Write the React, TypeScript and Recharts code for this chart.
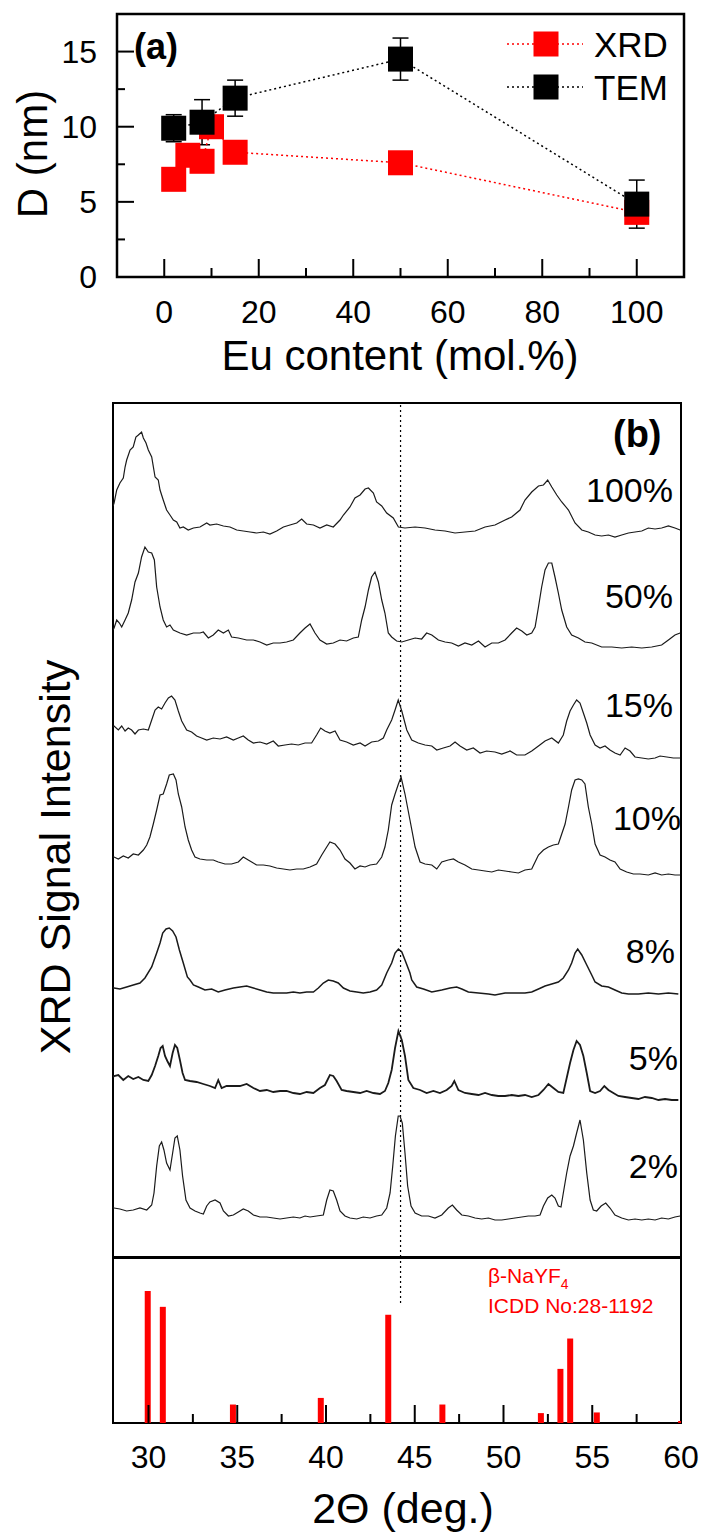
import React from 'react';
import {
  ScatterChart, Scatter, XAxis, YAxis, ErrorBar, ReferenceArea, ReferenceLine,
  LineChart, Line, ComposedChart, Bar,
} from 'recharts';

const FONT = '"Liberation Sans", Arial, Helvetica, sans-serif';

// ---------- Panel (a): crystallite size vs Eu content ----------
const euXrd = [2, 5, 8, 10, 15, 50, 100];
const dXrd = [6.5, 8.1, 7.7, 10.0, 8.3, 7.6, 4.3];
const euTem = [2, 8, 15, 50, 100];
const dTem = [9.9, 10.3, 11.9, 14.5, 4.85];
const dTemErr = [0.9, 1.5, 1.2, 1.4, 1.6];
const euTicks = [0, 10, 20, 30, 40, 50, 60, 70, 80, 90, 100];
const dTicks = [0, 2.5, 5, 7.5, 10, 12.5, 15];

// ---------- Panel (b): XRD patterns (2theta, intensity above trace baseline) ----------
const labels = ['100%', '50%', '15%', '10%', '8%', '5%', '2%'];
const offsets = [727, 617, 514, 400, 269, 179, 49];

const t100 = [[28.0,24],[28.06,27],[28.21,40],[28.39,47],[28.58,52],[28.68,63],[28.77,70],[28.96,80],[29.14,83],[29.29,93],[29.43,95],[29.61,98],[29.71,92],[29.86,87],[29.99,80],[30.18,73],[30.37,53],[30.55,50],[30.65,40],[30.83,30],[31.02,20],[31.21,15],[31.40,10],[31.59,8],[31.77,2],[31.96,3],[32.24,0],[32.53,2],[32.90,3],[33.28,7],[33.46,5],[33.84,6],[34.22,4],[34.59,3],[34.97,0],[35.34,-1],[35.72,-2],[36.09,-3],[36.47,-2],[36.84,-4],[37.22,-1],[37.60,3],[37.97,5],[38.35,7],[38.63,11],[38.91,6],[39.29,5],[39.66,2],[40.04,5],[40.41,3],[40.79,10],[40.98,15],[41.35,23],[41.63,32],[41.92,35],[42.20,41],[42.39,42],[42.67,37],[42.85,28],[43.14,24],[43.42,17],[43.79,12],[44.08,3],[44.45,2],[45.02,3],[45.58,2],[46.14,0],[46.71,-1],[47.27,-3],[47.83,-2],[48.40,-1],[48.96,3],[49.52,5],[50.09,10],[50.46,13],[50.93,20],[51.21,30],[51.59,38],[51.97,44],[52.25,45],[52.49,50],[52.72,43],[53.00,35],[53.28,28],[53.66,20],[54.03,7],[54.41,0],[54.78,-2],[55.16,-5],[55.53,-6],[55.91,-5],[56.28,-7],[56.66,-5],[57.04,-3],[57.41,-2],[57.79,-1],[58.16,2],[58.54,1],[58.91,2],[59.29,4],[59.66,2],[59.95,0]];

const t50 = [[28.0,10],[28.06,12],[28.21,20],[28.36,17],[28.49,13],[28.68,20],[28.86,27],[29.05,40],[29.24,58],[29.43,67],[29.61,83],[29.80,93],[29.99,88],[30.18,87],[30.33,80],[30.46,53],[30.65,33],[30.83,20],[31.02,13],[31.21,15],[31.40,10],[31.77,7],[32.15,5],[32.53,7],[32.90,7],[33.09,8],[33.37,2],[33.65,5],[33.93,10],[34.22,7],[34.50,10],[34.68,3],[35.06,2],[35.53,0],[35.91,0],[36.28,-2],[36.66,-5],[37.03,-3],[37.41,-3],[37.78,-2],[38.16,0],[38.53,7],[38.82,12],[39.10,16],[39.38,7],[39.66,0],[40.04,-4],[40.41,-3],[40.79,0],[41.16,-1],[41.54,2],[41.82,3],[42.01,20],[42.20,33],[42.39,50],[42.57,63],[42.76,68],[42.95,58],[43.14,40],[43.32,27],[43.51,7],[43.70,3],[43.98,-1],[44.27,-2],[44.64,0],[45.02,2],[45.39,1],[45.67,7],[45.96,5],[46.33,0],[46.71,-2],[47.08,-3],[47.46,-6],[47.83,-3],[48.21,-5],[48.59,-1],[48.96,-7],[49.34,-3],[49.71,-3],[50.09,0],[50.46,7],[50.74,12],[51.03,9],[51.31,5],[51.59,7],[51.78,13],[51.97,33],[52.15,53],[52.34,70],[52.53,77],[52.72,77],[52.90,63],[53.09,47],[53.28,30],[53.56,13],[53.84,5],[54.22,2],[54.59,-2],[54.97,-3],[55.53,-7],[56.10,-7],[56.66,-8],[57.22,-7],[57.79,-8],[58.35,-7],[58.91,-5],[59.29,0],[59.66,5],[59.95,7]];

const t15 = [[28.0,16],[28.06,17],[28.30,13],[28.49,17],[28.68,12],[28.86,15],[29.05,13],[29.24,9],[29.43,13],[29.71,14],[29.99,13],[30.18,23],[30.37,33],[30.55,36],[30.74,34],[30.93,40],[31.12,45],[31.30,47],[31.49,43],[31.68,32],[31.87,22],[32.15,13],[32.43,11],[32.71,7],[32.99,5],[33.28,3],[33.65,5],[34.03,4],[34.40,6],[34.78,3],[35.06,5],[35.34,7],[35.62,3],[35.91,0],[36.28,1],[36.66,-1],[37.03,2],[37.31,-3],[37.69,-2],[38.06,-1],[38.44,-2],[38.82,0],[39.19,0],[39.47,8],[39.70,15],[39.94,12],[40.22,10],[40.51,12],[40.79,3],[41.16,1],[41.54,-2],[41.92,0],[42.20,-3],[42.57,1],[42.95,2],[43.23,5],[43.42,13],[43.70,23],[43.89,33],[44.07,43],[44.27,32],[44.55,13],[44.83,3],[45.20,0],[45.58,-2],[45.96,-3],[46.24,-7],[46.61,-5],[46.99,-3],[47.27,1],[47.55,-3],[47.93,-7],[48.30,-5],[48.68,-10],[49.05,-8],[49.52,-9],[49.90,-11],[50.37,-8],[50.74,-12],[51.21,-12],[51.59,-8],[51.97,-3],[52.34,2],[52.72,5],[53.09,0],[53.37,8],[53.56,22],[53.75,32],[53.94,38],[54.12,43],[54.31,40],[54.50,30],[54.69,20],[54.88,8],[55.16,-2],[55.44,-5],[55.72,-3],[56.00,-7],[56.28,-10],[56.57,-12],[56.85,-5],[57.13,-8],[57.41,-14],[57.79,-15],[58.16,-16],[58.54,-15],[58.82,-13],[59.20,-14],[59.57,-15],[59.95,-15]];

const t10 = [[28.0,0],[28.06,0],[28.30,-2],[28.58,1],[28.86,-1],[29.14,3],[29.43,2],[29.71,7],[29.90,12],[30.08,20],[30.27,33],[30.46,47],[30.65,62],[30.83,63],[31.02,73],[31.17,82],[31.40,83],[31.55,77],[31.68,63],[31.87,50],[32.06,30],[32.24,17],[32.43,7],[32.62,0],[32.90,-2],[33.28,-3],[33.65,-3],[33.93,-5],[34.31,-7],[34.68,-7],[35.06,-5],[35.34,0],[35.62,-3],[35.81,-5],[36.09,-8],[36.47,-8],[36.84,-9],[37.22,-11],[37.60,-12],[37.97,-13],[38.35,-12],[38.72,-12],[39.10,-10],[39.47,-7],[39.76,2],[40.04,10],[40.22,15],[40.51,13],[40.79,7],[41.07,-2],[41.35,-6],[41.63,-12],[41.92,-9],[42.20,-10],[42.48,-8],[42.85,-7],[43.14,0],[43.32,10],[43.51,27],[43.70,52],[43.89,63],[44.08,73],[44.23,80],[44.45,63],[44.73,37],[45.02,10],[45.30,-5],[45.58,-7],[45.96,-8],[46.24,-12],[46.52,-5],[46.89,-3],[47.18,-2],[47.46,-5],[47.83,-8],[48.21,-12],[48.59,-13],[48.96,-14],[49.34,-15],[49.71,-13],[50.09,-14],[50.46,-15],[50.84,-16],[51.21,-13],[51.59,-12],[51.78,-5],[51.97,2],[52.25,7],[52.53,10],[52.81,12],[53.09,13],[53.28,23],[53.47,33],[53.66,50],[53.84,67],[54.03,77],[54.22,78],[54.41,77],[54.59,73],[54.78,50],[54.97,33],[55.16,13],[55.44,2],[55.72,0],[56.00,-3],[56.28,-5],[56.57,-12],[56.94,-15],[57.32,-17],[57.69,-17],[58.16,-18],[58.54,-16],[58.91,-18],[59.29,-17],[59.66,-18],[59.95,-18]];

const t8 = [[28.0,0],[28.06,0],[28.39,-1],[28.77,1],[29.14,3],[29.52,5],[29.80,10],[30.18,21],[30.46,35],[30.65,45],[30.80,55],[30.99,59],[31.17,60],[31.36,57],[31.55,51],[31.74,38],[31.96,25],[32.19,11],[32.34,8],[32.53,3],[32.81,1],[33.18,-2],[33.56,-1],[33.93,-4],[34.31,-2],[34.78,0],[35.15,1],[35.53,2],[35.91,0],[36.28,-2],[36.66,-4],[37.03,-5],[37.41,-5],[37.78,-5],[38.16,-4],[38.53,-5],[38.91,-4],[39.29,-4],[39.57,0],[39.85,5],[40.13,8],[40.41,7],[40.69,5],[40.98,0],[41.35,-3],[41.73,-4],[42.10,-5],[42.48,-4],[42.85,-2],[43.14,3],[43.42,15],[43.70,25],[43.89,35],[44.08,39],[44.27,36],[44.45,28],[44.73,15],[44.83,8],[45.11,1],[45.49,-1],[45.96,-4],[46.52,-2],[46.99,0],[47.36,1],[47.65,-1],[48.02,-4],[48.59,-5],[49.15,-6],[49.52,-7],[50.09,-5],[50.65,-5],[51.21,-5],[51.59,-4],[51.97,-1],[52.34,2],[52.72,4],[53.09,6],[53.37,10],[53.66,18],[53.84,25],[54.03,35],[54.18,39],[54.41,33],[54.69,23],[54.97,13],[55.16,6],[55.53,2],[55.91,1],[56.28,-2],[56.66,-5],[57.04,-6],[57.60,-6],[58.16,-5],[58.73,-6],[59.29,-5],[59.85,-6]];

const t5 = [[28.0,1],[28.06,2],[28.30,3],[28.58,-2],[28.86,2],[29.14,-1],[29.43,1],[29.71,-2],[29.99,-3],[30.18,3],[30.37,12],[30.55,22],[30.68,30],[30.80,32],[30.93,22],[31.06,17],[31.21,12],[31.36,25],[31.49,33],[31.62,30],[31.77,18],[31.92,5],[32.06,-2],[32.34,-3],[32.71,-4],[33.09,-6],[33.46,-8],[33.75,-10],[33.93,-2],[34.12,-10],[34.40,-8],[34.78,-8],[35.15,-8],[35.53,-6],[35.91,-10],[36.28,-13],[36.66,-12],[37.03,-14],[37.41,-13],[37.78,-13],[38.16,-15],[38.53,-16],[38.91,-14],[39.29,-15],[39.66,-10],[39.94,-7],[40.22,3],[40.41,2],[40.60,-3],[40.88,-12],[41.16,-13],[41.54,-14],[41.92,-15],[42.29,-13],[42.67,-15],[43.04,-16],[43.32,-13],[43.51,-5],[43.70,8],[43.89,30],[44.08,47],[44.27,38],[44.45,22],[44.64,-2],[44.92,-10],[45.30,-12],[45.67,-15],[46.05,-13],[46.42,-15],[46.80,-12],[47.08,-8],[47.23,-3],[47.46,-12],[47.83,-15],[48.21,-16],[48.59,-17],[48.96,-15],[49.34,-17],[49.71,-18],[50.09,-18],[50.46,-17],[50.84,-18],[51.21,-17],[51.59,-19],[51.97,-17],[52.25,-12],[52.53,-6],[52.81,-10],[53.09,-14],[53.37,-15],[53.56,0],[53.75,15],[53.94,28],[54.12,37],[54.31,33],[54.50,22],[54.69,5],[54.88,-13],[55.16,-15],[55.44,-13],[55.68,-8],[55.91,-12],[56.19,-15],[56.47,-18],[56.85,-19],[57.22,-20],[57.60,-21],[57.97,-19],[58.35,-20],[58.73,-22],[59.10,-21],[59.48,-22],[59.85,-22]];

const t2 = [[28.0,0],[28.06,0],[28.39,-1],[28.77,-3],[29.14,-2],[29.52,0],[29.90,-2],[30.18,3],[30.31,15],[30.46,42],[30.61,62],[30.74,66],[30.87,58],[31.02,45],[31.21,38],[31.36,55],[31.49,70],[31.62,72],[31.77,58],[31.92,32],[32.11,8],[32.34,0],[32.62,-3],[32.90,-5],[33.09,-6],[33.28,2],[33.46,6],[33.75,8],[34.03,5],[34.22,-3],[34.50,-8],[34.78,-7],[35.06,-4],[35.34,-1],[35.62,-3],[35.91,-7],[36.28,-9],[36.66,-9],[37.03,-10],[37.41,-11],[37.78,-10],[38.16,-9],[38.53,-10],[38.82,-8],[39.10,-9],[39.47,-8],[39.85,-7],[40.04,8],[40.22,18],[40.41,17],[40.60,8],[40.79,-3],[41.07,-8],[41.35,-10],[41.73,-11],[42.10,-9],[42.48,-10],[42.85,-8],[43.14,-7],[43.42,0],[43.61,15],[43.76,42],[43.91,72],[44.07,92],[44.17,92],[44.30,85],[44.45,55],[44.60,22],[44.79,2],[45.02,-5],[45.39,-8],[45.77,-8],[46.14,-10],[46.52,-7],[46.89,0],[47.12,3],[47.36,-2],[47.65,-7],[48.02,-8],[48.40,-10],[48.77,-11],[49.15,-10],[49.52,-12],[49.90,-12],[50.28,-11],[50.65,-10],[51.03,-9],[51.40,-8],[51.78,-8],[52.06,-7],[52.25,2],[52.49,10],[52.72,13],[52.90,10],[53.09,2],[53.24,1],[53.37,15],[53.56,35],[53.75,52],[53.94,62],[54.12,75],[54.31,88],[54.50,68],[54.69,35],[54.88,8],[55.06,-2],[55.25,-3],[55.50,2],[55.76,5],[56.00,0],[56.28,-7],[56.66,-10],[57.04,-12],[57.41,-11],[57.79,-12],[58.16,-11],[58.54,-12],[58.91,-10],[59.29,-11],[59.66,-9],[59.95,-8]];

const traces = [t100, t50, t15, t10, t8, t5, t2];
const traceWidths = [1.2, 1.2, 1.2, 1.2, 1.5, 1.8, 1.2];
const markerLine = 44.2;

// ---------- Panel (c): reference pattern beta-NaYF4, ICDD 28-1192 ----------
const refPos = [29.95, 30.8, 34.75, 39.7, 43.5, 46.55, 52.1, 53.2, 53.75, 55.25, 60.0];
const refInt = [100, 88, 14, 19, 82, 14, 7.5, 41, 64, 8, 1.5];
const thetaTicks = [30, 32.5, 35, 37.5, 40, 42.5, 45, 47.5, 50, 52.5, 55, 57.5, 60];

// ---------- derived tables ----------
const xrdData = euXrd.map((x, i) => ({ x, d: dXrd[i] }));
const temData = euTem.map((x, i) => ({ x, d: dTem[i], err: dTemErr[i] }));
const traceData = traces.map((tr, k) => tr.map(([x, v]) => ({ x, y: offsets[k] + v })));
const refData = refPos.map((pos, i) => ({ pos, int: refInt[i] }));

const square = (fill: string) => (props: any) => (
  <rect x={props.cx - 12.5} y={props.cy - 12.5} width={25} height={25} fill={fill} />
);

const TickA_X = (props: any) => {
  const { x, y, payload } = props;
  const v = payload.value;
  const major = v % 20 === 0;
  return (
    <g>
      <line x1={x} y1={y} x2={x} y2={y - (major ? 18 : 9)} stroke="#000" strokeWidth={2} />
      {major && (
        <text x={x} y={y + 46} textAnchor="middle" fontSize={32} fontFamily={FONT} fill="#000">{v}</text>
      )}
    </g>
  );
};

const TickA_Y = (props: any) => {
  const { x, y, payload } = props;
  const v = payload.value;
  const major = v % 5 === 0;
  return (
    <g>
      <line x1={x} y1={y} x2={x + (major ? 17 : 8)} y2={y} stroke="#000" strokeWidth={2} />
      {major && (
        <text x={x - 20} y={y + 11} textAnchor="end" fontSize={32} fontFamily={FONT} fill="#000">{v}</text>
      )}
    </g>
  );
};

const TickB_X = (props: any) => {
  const { x, y, payload } = props;
  const len = payload.value === 30 ? 17 : 8;
  return <line x1={x} y1={y} x2={x} y2={y - len} stroke="#000" strokeWidth={2} />;
};

const TickC_X = (props: any) => {
  const { x, y, payload } = props;
  const v = payload.value;
  const major = v % 5 === 0;
  return (
    <g>
      {v < 60 && <line x1={x} y1={y} x2={x} y2={y - (major ? 18 : 9)} stroke="#000" strokeWidth={2} />}
      {major && (
        <text x={x} y={y + 45} textAnchor="middle" fontSize={32} fontFamily={FONT} fill="#000">{v}</text>
      )}
    </g>
  );
};

const labelPos = [
  { end: 673, base: 502 },
  { end: 673, base: 608 },
  { end: 673, base: 717 },
  { end: 681, base: 830 },
  { end: 675, base: 963 },
  { end: 678, base: 1070 },
  { end: 678, base: 1178 },
];

export default function App() {
  return (
    <div style={{ position: 'absolute', left: 0, top: 0, width: 704, height: 1535, background: '#fff', fontFamily: FONT }}>
      {/* Panel (a) */}
      <div style={{ position: 'absolute', left: 0, top: 0 }}>
        <ScatterChart width={704} height={400} margin={{ top: 14, right: 20, bottom: 63, left: 57 }}>
          <XAxis type="number" dataKey="x" domain={[-10, 110]} ticks={euTicks} interval={0}
            tickSize={0} tickMargin={0} tickLine={false} axisLine={false} height={60} tick={TickA_X} allowDataOverflow />
          <YAxis type="number" dataKey="d" domain={[0, 17.5]} ticks={dTicks} interval={0}
            tickSize={0} tickMargin={0} tickLine={false} axisLine={false} width={60} tick={TickA_Y} allowDataOverflow />
          <ReferenceArea x1={-10} x2={110} y1={0} y2={17.5} fill="none" stroke="#000" strokeWidth={2.5} ifOverflow="visible" />
          <Scatter name="XRD" data={xrdData} fill="#ff0000" shape={square('#ff0000')} isAnimationActive={false}
            line={{ stroke: '#ff0000', strokeWidth: 1.5, strokeDasharray: '2 3' }} lineType="joint" />
          <Scatter name="TEM" data={temData} fill="#000" shape={square('#000')} isAnimationActive={false}
            line={{ stroke: '#000', strokeWidth: 1.5, strokeDasharray: '2 3' }} lineType="joint">
            <ErrorBar dataKey="err" direction="y" width={8} stroke="#000" strokeWidth={1.5} />
          </Scatter>
        </ScatterChart>
      </div>

      {/* Panel (b) */}
      <div style={{ position: 'absolute', left: 0, top: 380 }}>
        <LineChart width={704} height={900} margin={{ top: 23, right: 23, bottom: 23, left: 113 }}>
          <XAxis type="number" dataKey="x" domain={[28, 60]} ticks={[30, 45]} interval={0}
            tickSize={0} tickMargin={0} tickLine={false} axisLine={false} height={0} tick={TickB_X} allowDataOverflow />
          <YAxis type="number" hide domain={[0, 854]} allowDataOverflow />
          <ReferenceArea x1={28} x2={60} y1={0} y2={854} fill="none" stroke="#000" strokeWidth={2} ifOverflow="visible" />
          <ReferenceLine x={markerLine} stroke="#000" strokeWidth={1.2} strokeDasharray="2 3" />
          {traceData.map((d, k) => (
            <Line key={labels[k]} name={labels[k]} data={d} dataKey="y" type="linear" stroke="#1a1a1a"
              strokeWidth={traceWidths[k]} dot={false} activeDot={false} isAnimationActive={false} />
          ))}
        </LineChart>
      </div>

      {/* Panel (c) */}
      <div style={{ position: 'absolute', left: 0, top: 1240 }}>
        <ComposedChart width={704} height={295} data={refData} margin={{ top: 18, right: 23, bottom: 52, left: 113 }}>
          <XAxis type="number" dataKey="pos" domain={[28, 60]} ticks={thetaTicks} interval={0}
            tickSize={0} tickMargin={0} tickLine={false} axisLine={false} height={60} tick={TickC_X} allowDataOverflow />
          <YAxis type="number" hide domain={[0, 125]} allowDataOverflow />
          <Bar dataKey="int" fill="#ff0000" barSize={6} isAnimationActive={false} />
          <ReferenceArea x1={28} x2={60} y1={0} y2={125} fill="none" stroke="#000" strokeWidth={2} ifOverflow="visible" />
          <ReferenceLine segment={[{ x: markerLine, y: 91 }, { x: markerLine, y: 125 }]} stroke="#000" strokeWidth={1.2} strokeDasharray="2 3" />
        </ComposedChart>
      </div>

      {/* Annotations */}
      <svg width={704} height={1535} style={{ position: 'absolute', left: 0, top: 0, pointerEvents: 'none' }}>
        <g fontFamily={FONT} fill="#000">
          <text transform="translate(47,154) rotate(-90)" textAnchor="middle" fontSize={42}>D (nm)</text>
          <text x={400} y={370} textAnchor="middle" fontSize={42}>Eu content (mol.%)</text>
          <text x={134} y={59} fontSize={36} fontWeight="bold">(a)</text>
          {/* legend */}
          <line x1={507} y1={44} x2={583} y2={44} stroke="#ff0000" strokeWidth={1.5} strokeDasharray="2 3" />
          <rect x={533.5} y={31.5} width={25} height={25} fill="#ff0000" />
          <text x={594} y={57} fontSize={35}>XRD</text>
          <line x1={507} y1={87} x2={583} y2={87} stroke="#000" strokeWidth={1.5} strokeDasharray="2 3" />
          <rect x={533.5} y={74.5} width={25} height={25} fill="#000" />
          <text x={594} y={100} fontSize={35}>TEM</text>

          <text x={613} y={447} fontSize={38} fontWeight="bold">(b)</text>
          {labels.map((l, k) => (
            <text key={l} x={labelPos[k].end} y={labelPos[k].base} textAnchor="end" fontSize={34}>{l}</text>
          ))}
          <text transform="translate(70,857) rotate(-90)" textAnchor="middle" fontSize={43}>XRD Signal Intensity</text>
          <text x={403} y={1523} textAnchor="middle" fontSize={43}>2Θ (deg.)</text>
          <text x={488} y={1283} fontSize={21} fill="#ff0000">β-NaYF<tspan fontSize={14} dy={6}>4</tspan></text>
          <text x={488} y={1313} fontSize={21} fill="#ff0000">ICDD No:28-1192</text>
        </g>
      </svg>
    </div>
  );
}
